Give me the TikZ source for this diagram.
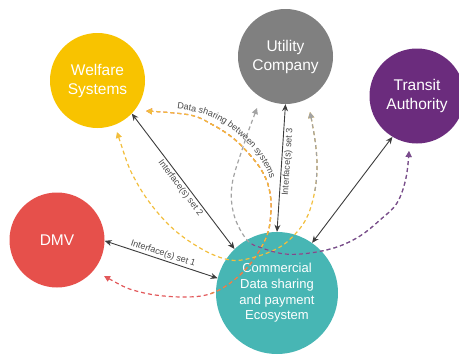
\documentclass[tikz,border=0pt]{standalone}
\usepackage{fontspec}
\setmainfont{Liberation Sans}
\usetikzlibrary{arrows.meta,decorations.text}
\definecolor{cwel}{HTML}{F8C300}
\definecolor{cutil}{HTML}{808080}
\definecolor{ctran}{HTML}{6B2C7D}
\definecolor{cdmv}{HTML}{E6504B}
\definecolor{ccom}{HTML}{47B6B4}
\definecolor{dyel}{HTML}{F2BE3C}
\definecolor{dgray}{HTML}{A3A3A3}
\definecolor{dpur}{HTML}{7B4B8E}
\definecolor{dred}{HTML}{E2585A}
\definecolor{dorange}{HTML}{E8894A}
\definecolor{solidc}{HTML}{3C3C3C}
\definecolor{labelc}{HTML}{4A4A4A}
\begin{document}
\begin{tikzpicture}[x=1pt,y=-1pt,
  sys/.style={circle, minimum size=95pt, inner sep=0pt, text=white, align=center,
    font=\fontsize{15.5}{19}\selectfont},
  link/.style={draw=solidc, line width=0.9pt,
    {Stealth[length=7pt,width=6pt]}-{Stealth[length=7pt,width=6pt]}},
  share/.style={line width=1.2pt, dash pattern=on 4pt off 3pt,
    {Triangle[length=6pt,width=6pt]}-{Triangle[length=6pt,width=6pt]}},
  lab/.style={font=\fontsize{9}{10}\selectfont, text=labelc, inner sep=1.5pt}
]
\useasboundingbox (0,0) rectangle (459,356);

% systems
\node[sys, fill=cwel] (welfare) at (97.5,80.5) {Welfare\\Systems};
\node[sys, fill=cutil] (utility) at (285.5,56.5) {Utility\\Company};
\node[sys, fill=ctran] (transit) at (417,96) {Transit\\Authority};
\node[sys, fill=cdmv] (dmv) at (57,240) {DMV};
\node[sys, fill=ccom, minimum size=122pt, font=\fontsize{13}{15.7}\selectfont] (comm) at (277,293)
  {Commercial\\Data sharing\\and payment\\Ecosystem};

% interfaces
\draw[link] (dmv.-1) -- node[lab, sloped, above] {Interface(s) set 1} (comm.166);
\draw[link] (welfare.-44) -- node[lab, sloped, below, pos=0.52] {Interface(s) set 2} (comm.134);
\draw[link] (comm.90) -- node[lab, sloped, below, pos=0.55] {Interface(s) set 3} (utility.-90);
\draw[link] (transit.-121) -- (comm.55);

% data sharing curves
\coordinate (s1a) at (104,276);
\coordinate (s1b) at (146,111);
\coordinate (s2a) at (117,132);
\coordinate (s2b) at (310,112);
\coordinate (s3a) at (257,108);
\coordinate (s3b) at (409,151);
\def\curveA{plot[smooth, tension=0.6] coordinates {(s1a) (140,292) (183,297) (215,292) (245,270) (266,238)
  (271,210) (269,188) (262,171) (250,155) (233,138) (213,125) (190,115) (s1b)}}
\def\curveB{plot[smooth, tension=0.6] coordinates {(s2a) (137,183) (167,223) (200,248) (230,260) (255,257)
  (280,247) (297,232) (308,215) (315,190) (317,165) (315,140) (s2b)}}
\def\curveC{plot[smooth, tension=0.6] coordinates {(s3a) (243,147) (232,185) (234,215) (247,240) (262,248)
  (285,254) (310,253) (337,247) (360,236) (380,220) (397,203) (406,178) (s3b)}}

\draw[share, dred] \curveA;
\begin{scope}
  \clip (210,0) rectangle (459,356);
  \draw[share, dorange] \curveA;
\end{scope}
\begin{scope}
  \clip (0,0) rectangle (459,246);
  \draw[share, dyel] \curveA;
\end{scope}

\draw[share, dyel] \curveB;
\begin{scope}
  \clip (300,0) rectangle (459,190);
  \draw[share, dgray] \curveB;
\end{scope}

\draw[share, dgray] \curveC;
\begin{scope}
  \clip (250,356) -- (250,238) -- (330,238) -- (330,0) -- (459,0) -- (459,356) -- cycle;
  \draw[share, dpur] \curveC;
\end{scope}

\path[decorate, decoration={text along path,
  text={|\fontsize{9}{10}\selectfont\color{labelc}|Data sharing between systems},
  text align=left}]
  plot[smooth, tension=0.6] coordinates {(177,109) (200,113) (220,121) (240,136) (256,153) (267,171) (274,192) (277,205)};
\end{tikzpicture}
\end{document}
